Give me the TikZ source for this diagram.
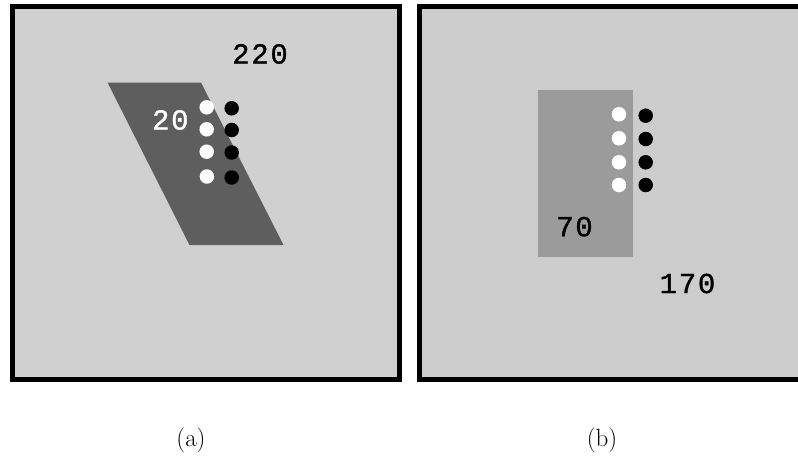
\documentclass[tikz,border=0pt]{standalone}
\usepackage{fontspec}
\newfontfamily\numfont[FakeBold=1.2, LetterSpace=6]{Liberation Mono}
\definecolor{panelA}{HTML}{D0D0D0}
\definecolor{panelB}{HTML}{CCCCCC}
\definecolor{darkshape}{HTML}{5E5E5E}
\definecolor{midshape}{HTML}{9B9B9B}
\tikzset{
  frame/.style={draw=black, line width=5pt},
  wdot/.style={circle, fill=white, minimum size=14.5pt, inner sep=0pt},
  bdot/.style={circle, fill=black, minimum size=14.5pt, inner sep=0pt},
  numlabel/.style={font=\numfont\fontsize{29}{29}\selectfont, inner sep=0pt},
  caption/.style={font=\fontsize{25}{25}\selectfont, inner sep=0pt}
}
\begin{document}
\begin{tikzpicture}[x=1pt,y=-1pt]
\useasboundingbox (0,0) rectangle (798,458);
\clip (0,0) rectangle (798,458);
\fill[white] (0,0) rectangle (798,458);
% panel (a)
\draw[frame, fill=panelA] (12.5,6.5) rectangle (399.5,379.6);
\fill[darkshape] (107.5,82.5) -- (201,82.5) -- (283.5,245) -- (189.5,245) -- cycle;
\node[wdot] (aw1) at (206.7,107.3) {};
\node[wdot] (aw2) at (206.7,129.3) {};
\node[wdot] (aw3) at (206.7,151.7) {};
\node[wdot] (aw4) at (206.9,176.5) {};
\node[bdot] (ab1) at (231.7,108.3) {};
\node[bdot] (ab2) at (231.7,130.0) {};
\node[bdot] (ab3) at (231.7,152.5) {};
\node[bdot] (ab4) at (231.7,177.5) {};
\node[numlabel, text=white] (a20) at (170.3,120) {20};
\node[numlabel] (a220) at (260,54) {220};
% panel (b)
\draw[frame, fill=panelB] (419.8,6.8) rectangle (830,379.6);
\fill[midshape] (538.3,90) rectangle (633.3,256.7);
\node[wdot] (bw1) at (619,114.3) {};
\node[wdot] (bw2) at (619,138.3) {};
\node[wdot] (bw3) at (619,162.3) {};
\node[wdot] (bw4) at (619,185) {};
\node[bdot] (bb1) at (645.7,115.7) {};
\node[bdot] (bb2) at (645.7,139) {};
\node[bdot] (bb3) at (645.7,162.3) {};
\node[bdot] (bb4) at (645.7,185) {};
\node[numlabel] (b70) at (574.5,226.7) {70};
\node[numlabel] (b170) at (687.5,283.5) {170};
% captions
\node[caption] (capa) at (191,440) {(a)};
\node[caption] (capb) at (602,440) {(b)};
\end{tikzpicture}
\end{document}
